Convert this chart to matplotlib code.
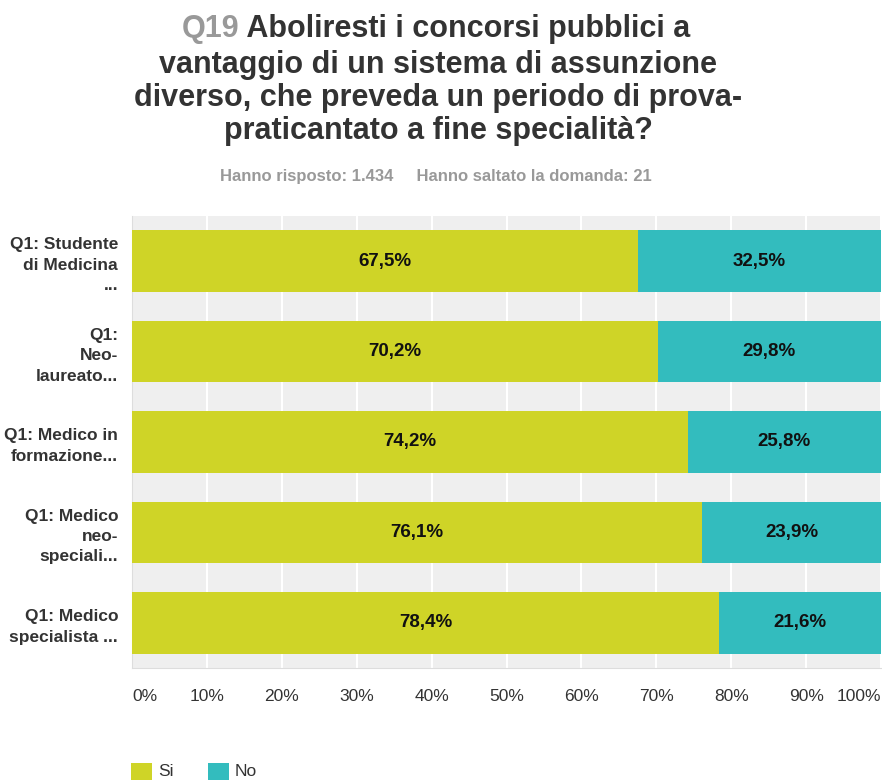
import matplotlib.pyplot as plt
import numpy as np
from matplotlib.patches import Rectangle

plt.rcParams['font.family'] = ['Liberation Sans', 'DejaVu Sans']

# dati della domanda Q19
categorie = ['Q1: Studente\ndi Medicina\n...', 'Q1:\nNeo-\nlaureato...', 'Q1: Medico in\nformazione...',
             'Q1: Medico\nneo-\nspeciali...', 'Q1: Medico\nspecialista ...']
si = [67.5, 70.2, 74.2, 76.1, 78.4]
no = [32.5, 29.8, 25.8, 23.9, 21.6]
serie = ['Si', 'No']
colori = ['#cfd427', '#33bcbe']
xtick_labels = ['0%', '10%', '20%', '30%', '40%', '50%', '60%', '70%', '80%', '90%', '100%']

fig = plt.figure(figsize=(8.82, 7.8), dpi=100)
ax = fig.add_axes([132/882, 1-668/780, 749/882, (668-216)/780])
ax.set_facecolor('#efefef')

y = np.arange(len(categorie))
h = 0.68
ax.barh(y, si, height=h, color=colori[0], zorder=3)
ax.barh(y, no, left=si, height=h, color=colori[1], zorder=3)

for i in range(len(categorie)):
    ax.text(si[i] / 2, y[i], f"{si[i]:.1f}%".replace('.', ','), ha='center', va='center',
            fontsize=13.5, fontweight='bold', color='#111111', zorder=4)
    ax.text(si[i] + no[i] / 2, y[i], f"{no[i]:.1f}%".replace('.', ','), ha='center', va='center',
            fontsize=13.5, fontweight='bold', color='#111111', zorder=4)

ax.set_xlim(0, 100)
ax.set_ylim(len(categorie) - 0.5, -0.5)
ax.set_xticks(np.arange(0, 101, 10))
ax.set_xticklabels(xtick_labels, fontsize=12.5, color='#333333')
ax.xaxis.grid(True, color='white', linewidth=1.5, zorder=1)
ax.set_axisbelow(True)
ax.tick_params(axis='x', length=0, pad=15)
ax.tick_params(axis='y', length=0, pad=10)
ax.set_yticks(y)
ax.set_yticklabels(categorie, fontsize=12.5, fontweight='bold', color='#333333', linespacing=1.45)
labels = ax.get_xticklabels()
labels[0].set_horizontalalignment('left')
labels[-1].set_horizontalalignment('right')

for s in ['top', 'right']:
    ax.spines[s].set_visible(False)
ax.spines['left'].set_color('#dddddd')
ax.spines['bottom'].set_color('#dddddd')

# titolo: prima riga composta da "Q19" grigio + testo scuro, centrata
ts = 22
r = fig.canvas.get_renderer()
t1 = fig.text(0, 1-29/780, 'Q19', ha='left', va='center', fontsize=ts, fontweight='bold', color='#999999')
t2 = fig.text(0, 1-29/780, ' Aboliresti i concorsi pubblici a', ha='left', va='center',
              fontsize=ts, fontweight='bold', color='#333333')
w1 = t1.get_window_extent(r).width
w2 = t2.get_window_extent(r).width
x0 = 436 - (w1 + w2) / 2
t1.set_x(x0 / 882)
t2.set_x((x0 + w1) / 882)
fig.text(438/882, 1-98/780, 'vantaggio di un sistema di assunzione\ndiverso, che preveda un periodo di prova-\npraticantato a fine specialità?',
         ha='center', va='center', fontsize=ts, fontweight='bold', color='#333333', linespacing=1.14)
fig.text(436/882, 1-177/780, 'Hanno risposto: 1.434     Hanno saltato la domanda: 21', ha='center', va='center',
         fontsize=12, fontweight='bold', color='#999999')

# legenda
for j, (nome, c) in enumerate(zip(serie, colori)):
    xl = [131, 208][j]
    fig.patches.append(Rectangle((xl/882, 0), 21/882, 17/780, transform=fig.transFigure,
                                 facecolor=c, edgecolor='none'))
    fig.text((xl + 27)/882, 9/780, nome, ha='left', va='center', fontsize=12.5, color='#333333')

plt.savefig('out.png', dpi=100)
